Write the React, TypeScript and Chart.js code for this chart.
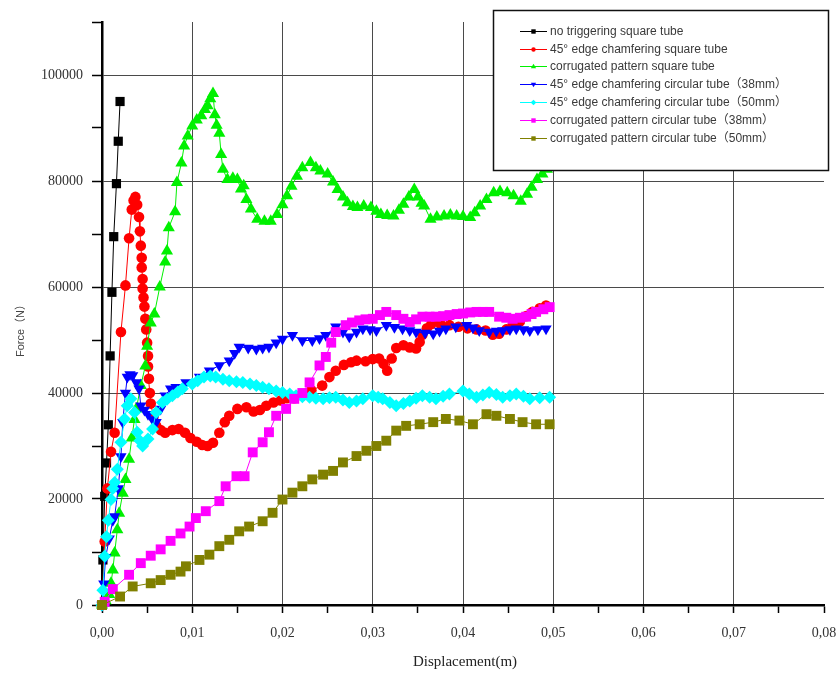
import React, { useEffect, useRef } from 'react';
import { Chart, registerables } from 'chart.js';

Chart.register(...registerables);

const seriesLabels = [
  'no triggering square tube',
  '45° edge chamfering square tube',
  'corrugated pattern square tube',
  '45° edge chamfering circular tube（38mm）',
  '45° edge chamfering circular tube（50mm）',
  'corrugated pattern circular tube（38mm）',
  'corrugated pattern circular tube（50mm）',
];

const noTriggerSquare: [number, number][] = [
  [0, 0], [0.0001, 8500], [0.0003, 20500], [0.0005, 26800], [0.0007, 34000], [0.0009, 47000],
  [0.0011, 59000], [0.0013, 69500], [0.0016, 79500], [0.0018, 87500], [0.002, 95000],
];

const chamferSquare: [number, number][] = [
  [0, 0], [0.0003, 12000], [0.0006, 22000], [0.001, 28900], [0.0014, 32500], [0.0021, 51500],
  [0.0026, 60300], [0.003, 69200], [0.0033, 74600], [0.0035, 76300], [0.0037, 77000], [0.0039, 75500],
  [0.0041, 73200], [0.0042, 70500], [0.0043, 67800], [0.0044, 65500], [0.0044, 63700], [0.0045, 61500],
  [0.0045, 59700], [0.0046, 58000], [0.0047, 56300], [0.0048, 54000], [0.0049, 52000], [0.005, 49500],
  [0.0051, 47000], [0.0051, 45000], [0.0052, 42700], [0.0053, 40000], [0.0054, 38000], [0.0057, 35500],
  [0.006, 33800], [0.0065, 33000], [0.007, 32500], [0.0078, 33000], [0.0085, 33200], [0.0092, 32500],
  [0.0098, 31500], [0.0105, 30800], [0.0111, 30200], [0.0117, 30000], [0.0123, 30600], [0.013, 32500],
  [0.0136, 34500], [0.0141, 35700], [0.015, 37000], [0.016, 37300], [0.0168, 36500], [0.0175, 36800],
  [0.0182, 37600], [0.019, 38200], [0.0198, 38600], [0.0205, 39000], [0.0213, 39000], [0.0222, 39500],
  [0.0232, 40500], [0.0244, 41400], [0.0252, 43000], [0.0259, 44200], [0.0268, 45300], [0.0276, 45800],
  [0.0282, 46100], [0.0292, 46000], [0.03, 46400], [0.0307, 46500], [0.0312, 45500], [0.0316, 44200],
  [0.0321, 46500], [0.0326, 48500], [0.0334, 49000], [0.0341, 48600], [0.0348, 48400], [0.0352, 49600],
  [0.0355, 51000], [0.036, 52200], [0.0365, 53000], [0.0375, 53000], [0.0385, 52800], [0.0395, 52500],
  [0.0405, 52200], [0.0415, 52000], [0.0425, 51800], [0.0433, 51000], [0.044, 51200], [0.0448, 52000],
  [0.0455, 52800], [0.0463, 53500], [0.047, 54500], [0.0477, 55300], [0.0485, 56000], [0.0492, 56500],
];

const corrugatedSquare: [number, number][] = [
  [0, 0], [0.0004, 800], [0.0008, 2000], [0.001, 4100], [0.0012, 6600], [0.0014, 9800], [0.0017, 14200],
  [0.0019, 17300], [0.0023, 21100], [0.0026, 23700], [0.003, 27500], [0.0033, 31500], [0.0036, 35000],
  [0.0038, 37000], [0.0043, 41400], [0.0048, 45100], [0.005, 48800], [0.0054, 53200], [0.0058, 54900],
  [0.0064, 60000], [0.007, 64700], [0.0072, 66800], [0.0074, 71200], [0.0081, 74200], [0.0083, 79700],
  [0.0088, 83400], [0.0091, 86600], [0.0095, 88500], [0.01, 90400], [0.0105, 91500], [0.011, 92300],
  [0.0114, 93500], [0.0117, 94200], [0.012, 95500], [0.0123, 96500], [0.0125, 92500], [0.0127, 90500],
  [0.013, 89000], [0.0132, 85000], [0.0134, 82200], [0.0139, 80300], [0.0145, 80500], [0.015, 80300],
  [0.0154, 78500], [0.0157, 79100], [0.016, 76500], [0.0165, 74700], [0.0172, 72800], [0.018, 72400],
  [0.0187, 72400], [0.0194, 73700], [0.02, 75500], [0.0205, 77200], [0.021, 79000], [0.0216, 80900],
  [0.0222, 82500], [0.0231, 83500], [0.0237, 82500], [0.0242, 81900], [0.025, 81300], [0.0256, 79800],
  [0.0261, 78400], [0.0267, 77000], [0.0272, 75900], [0.0278, 75200], [0.0283, 75000], [0.029, 75300],
  [0.0298, 75000], [0.0304, 74300], [0.0309, 73700], [0.0316, 73500], [0.0323, 73400], [0.0329, 74500],
  [0.0334, 75600], [0.034, 77000], [0.0346, 78400], [0.035, 77000], [0.0354, 75800], [0.0357, 75300],
  [0.0364, 72800], [0.0371, 73200], [0.0379, 73400], [0.0386, 73600], [0.0393, 73400], [0.04, 73300],
  [0.0408, 73100], [0.0413, 74000], [0.0419, 75300], [0.0426, 76500], [0.0434, 77800], [0.0441, 78000],
  [0.0449, 77800], [0.0456, 77200], [0.0464, 76200], [0.0471, 77500], [0.0476, 78800], [0.0482, 80300],
  [0.0488, 81300], [0.0493, 82200],
];

const chamferCircular38: [number, number][] = [
  [0, 0], [0.0002, 4000], [0.0004, 9000], [0.0008, 12500], [0.0012, 16000], [0.0014, 16700],
  [0.0018, 22000], [0.0021, 28000], [0.0023, 34500], [0.0026, 40000], [0.0028, 43000], [0.0031, 43500],
  [0.0034, 43300], [0.0038, 42000], [0.0041, 40800], [0.0043, 37600], [0.0047, 36800], [0.0051, 36000],
  [0.0056, 35000], [0.006, 34500], [0.0065, 37000], [0.007, 39500], [0.0076, 40800], [0.0082, 41100],
  [0.0093, 42000], [0.0108, 43000], [0.0119, 44200], [0.013, 45200], [0.0141, 46100], [0.0147, 47500],
  [0.0152, 48700], [0.0162, 48500], [0.0171, 48300], [0.0178, 48500], [0.0185, 48700], [0.0193, 49500],
  [0.02, 50200], [0.0211, 50900], [0.0222, 49900], [0.0233, 49900], [0.0241, 50300], [0.0248, 50900],
  [0.0259, 52500], [0.0267, 51500], [0.0274, 50600], [0.0282, 51500], [0.0289, 52100], [0.0297, 52000],
  [0.0304, 51800], [0.0315, 52800], [0.0324, 52400], [0.0333, 52100], [0.0341, 51800], [0.0348, 51500],
  [0.0358, 51300], [0.0367, 51200], [0.0374, 51700], [0.0381, 52100], [0.0392, 52500], [0.0404, 52800],
  [0.0411, 52300], [0.0418, 51800], [0.0429, 51500], [0.0437, 51700], [0.0444, 51800], [0.0452, 52000],
  [0.0459, 52100], [0.0467, 52000], [0.0474, 51800], [0.0483, 52000], [0.0492, 52100],
];

const chamferCircular50: [number, number][] = [
  [0, 0], [0.0001, 2800], [0.0003, 9200], [0.0005, 12900], [0.0007, 16000], [0.001, 19900],
  [0.0012, 22000], [0.0014, 23100], [0.0017, 25600], [0.0021, 30700], [0.0025, 35100], [0.0028, 37600],
  [0.0032, 38900], [0.0036, 36300], [0.0039, 32600], [0.0042, 31000], [0.0045, 30000], [0.0051, 31300],
  [0.0056, 33200], [0.006, 36300], [0.0067, 38200], [0.0072, 38800], [0.0078, 39500], [0.0084, 40200],
  [0.0089, 40800], [0.01, 41700], [0.0106, 42300], [0.0113, 43000], [0.012, 43200], [0.0126, 43000],
  [0.0134, 42600], [0.0141, 42300], [0.0149, 42100], [0.0156, 42000], [0.0164, 41700], [0.0171, 41400],
  [0.0178, 41100], [0.0185, 40800], [0.0193, 40400], [0.02, 40100], [0.0208, 39800], [0.0215, 39500],
  [0.0222, 39300], [0.023, 39200], [0.0237, 39000], [0.0245, 38900], [0.0252, 39100], [0.0259, 39200],
  [0.0267, 38700], [0.0274, 38200], [0.0282, 38500], [0.0289, 38900], [0.03, 39500], [0.0306, 39200],
  [0.0311, 38900], [0.0319, 38200], [0.0326, 37600], [0.0334, 38000], [0.0341, 38500], [0.0348, 39000],
  [0.0355, 39500], [0.0363, 39200], [0.037, 38900], [0.0378, 39400], [0.0385, 39800], [0.04, 40400],
  [0.0407, 39800], [0.0415, 39200], [0.0422, 39600], [0.0429, 40100], [0.0437, 39700], [0.0444, 39200],
  [0.0452, 39500], [0.0459, 39800], [0.0467, 39400], [0.0474, 38900], [0.0485, 39100], [0.0496, 39200],
];

const corrugatedCircular38: [number, number][] = [
  [0, 0], [0.0003, 600], [0.0012, 3000], [0.003, 5700], [0.0043, 7900], [0.0054, 9300], [0.0065, 10500],
  [0.0076, 12100], [0.0087, 13500], [0.0097, 14800], [0.0104, 16400], [0.0115, 17700], [0.013, 19600],
  [0.0137, 22400], [0.0149, 24300], [0.0158, 24300], [0.0167, 28800], [0.0178, 30700], [0.0185, 32600],
  [0.0193, 35700], [0.0204, 37000], [0.0213, 38900], [0.0222, 40000], [0.023, 42000], [0.0241, 45200],
  [0.0248, 46800], [0.0254, 49500], [0.0259, 51500], [0.027, 52800], [0.0277, 53300], [0.0285, 53700],
  [0.0292, 53900], [0.03, 54000], [0.0308, 54700], [0.0315, 55300], [0.0326, 54700], [0.0334, 54000],
  [0.0341, 53400], [0.0348, 53900], [0.0355, 54400], [0.0363, 54400], [0.037, 54400], [0.0378, 54500],
  [0.0385, 54700], [0.0393, 54900], [0.04, 55000], [0.0408, 55200], [0.0415, 55300], [0.0422, 55300],
  [0.0429, 55300], [0.044, 54400], [0.0448, 54200], [0.0455, 54000], [0.0463, 54200], [0.047, 54400],
  [0.0476, 54900], [0.0481, 55300], [0.0489, 55800], [0.0496, 56200],
];

const corrugatedCircular50: [number, number][] = [
  [0, 0], [0.002, 1600], [0.0034, 3500], [0.0054, 4100], [0.0065, 4700], [0.0076, 5700], [0.0087, 6300],
  [0.0093, 7300], [0.0108, 8500], [0.0119, 9500], [0.013, 11100], [0.0141, 12300], [0.0152, 13900],
  [0.0163, 14800], [0.0178, 15800], [0.0189, 17400], [0.02, 19900], [0.0211, 21200], [0.0222, 22400],
  [0.0233, 23700], [0.0245, 24600], [0.0256, 25300], [0.0267, 26900], [0.0282, 28100], [0.0293, 29100],
  [0.0304, 30000], [0.0315, 31000], [0.0326, 32900], [0.0337, 33800], [0.0352, 34100], [0.0367, 34500],
  [0.0381, 35100], [0.0396, 34800], [0.0411, 34100], [0.0426, 36000], [0.0437, 35700], [0.0452, 35100],
  [0.0466, 34500], [0.0481, 34100], [0.0496, 34100],
];

const allSeries = [
  noTriggerSquare, chamferSquare, corrugatedSquare, chamferCircular38,
  chamferCircular50, corrugatedCircular38, corrugatedCircular50,
];

const colors = ['#000000', '#ff0000', '#00f000', '#0000ff', '#00ffff', '#ff00ff', '#808000'];
const pointStyles = ['rect', 'circle', 'triangle', 'triangle', 'rectRot', 'rect', 'rect'];
const pointRotations = [0, 0, 0, 180, 0, 0, 0];
const pointRadii = [6.5, 5.3, 7, 6.5, 6.5, 7, 7];

const xTitle = 'Displacement(m)';
const yTitle = 'Force（N）';

const SERIF = '"Liberation Serif", "Times New Roman", "DejaVu Serif", serif';
const SANS = '"Liberation Sans", Arial, "Noto Sans", "Noto Sans CJK SC", sans-serif';

function drawMarker(ctx: CanvasRenderingContext2D, style: string, rot: number, x: number, y: number, r: number) {
  ctx.beginPath();
  if (style === 'rect') {
    ctx.rect(x - r, y - r, 2 * r, 2 * r);
  } else if (style === 'circle') {
    ctx.arc(x, y, r, 0, Math.PI * 2);
  } else if (style === 'rectRot') {
    ctx.moveTo(x, y - r * 1.3);
    ctx.lineTo(x + r * 1.3, y);
    ctx.lineTo(x, y + r * 1.3);
    ctx.lineTo(x - r * 1.3, y);
    ctx.closePath();
  } else if (style === 'triangle') {
    const s = rot === 180 ? -1 : 1;
    ctx.moveTo(x, y - s * r * 1.3);
    ctx.lineTo(x + r * 1.2, y + s * r * 0.8);
    ctx.lineTo(x - r * 1.2, y + s * r * 0.8);
    ctx.closePath();
  }
  ctx.fill();
}

const overlayPlugin = {
  id: 'overlay',
  afterDraw(chart: any) {
    const ctx: CanvasRenderingContext2D = chart.ctx;
    ctx.save();
    // legend box
    ctx.fillStyle = '#ffffff';
    ctx.fillRect(493, 10, 336, 161);
    ctx.strokeStyle = '#111';
    ctx.lineWidth = 1.5;
    ctx.strokeRect(493.5, 10.5, 335, 160);
    ctx.font = `12px ${SANS}`;
    ctx.textBaseline = 'middle';
    ctx.textAlign = 'left';
    seriesLabels.forEach((lab, i) => {
      const y = Math.round(30.7 + i * 17.8) + 0.5;
      ctx.strokeStyle = colors[i];
      ctx.lineWidth = 1;
      ctx.beginPath();
      ctx.moveTo(520, y);
      ctx.lineTo(547, y);
      ctx.stroke();
      ctx.fillStyle = colors[i];
      drawMarker(ctx, pointStyles[i], pointRotations[i], 533.5, y, 2.2);
      ctx.fillStyle = '#3a3a3a';
      ctx.fillText(lab, 550, y + 0.5);
    });
    // axis titles
    ctx.fillStyle = '#222';
    ctx.font = `15px ${SERIF}`;
    ctx.textAlign = 'center';
    ctx.textBaseline = 'middle';
    ctx.fillText(xTitle, 465, 662);
    ctx.save();
    ctx.translate(21, 328);
    ctx.rotate(-Math.PI / 2);
    ctx.font = `11px ${SANS}`;
    ctx.fillStyle = '#444';
    ctx.fillText(yTitle, 0, 0);
    ctx.restore();
    ctx.restore();
  },
};

export default function App() {
  const canvasRef = useRef<HTMLCanvasElement | null>(null);

  useEffect(() => {
    const canvas = canvasRef.current;
    if (!canvas) return;
    const datasets = allSeries.map((s, i) => ({
      label: seriesLabels[i],
      data: s.map(([x, y]) => ({ x, y })),
      borderColor: colors[i],
      backgroundColor: colors[i],
      borderWidth: 1,
      showLine: true,
      pointStyle: pointStyles[i] as any,
      pointRotation: pointRotations[i],
      pointRadius: pointRadii[i],
      pointBorderWidth: 0,
      pointBackgroundColor: colors[i],
      pointBorderColor: colors[i],
      tension: 0,
      clip: false as any,
      order: allSeries.length - i,
    }));

    const chart = new Chart(canvas, {
      type: 'scatter',
      data: { datasets },
      plugins: [overlayPlugin],
      options: {
        responsive: false,
        animation: false,
        devicePixelRatio: 1,
        layout: { padding: { left: 0, right: 16, top: 22, bottom: 0 } },
        plugins: { legend: { display: false }, tooltip: { enabled: false }, title: { display: false } },
        scales: {
          x: {
            type: 'linear',
            min: 0,
            max: 0.08,
            afterFit: (scale: any) => {
              scale.height = 68;
              scale.paddingLeft = 0;
              scale.paddingRight = 0;
            },
            afterBuildTicks: (scale: any) => {
              const t = [];
              for (let i = 0; i <= 16; i++) t.push({ value: i * 0.005 });
              scale.ticks = t;
            },
            ticks: {
              autoSkip: false,
              maxRotation: 0,
              minRotation: 0,
              padding: 12,
              color: '#333',
              font: { family: SERIF, size: 14 },
              callback: (v: any) => {
                const n = Math.round(Number(v) * 1000);
                if (n % 10 !== 0) return '';
                return (n / 1000).toFixed(2).replace('.', ',');
              },
            },
            grid: {
              drawTicks: true,
              tickLength: 8,
              tickWidth: 1.5,
              tickColor: '#000',
              lineWidth: 1,
              color: (c: any) => {
                const n = Math.round(Number(c.tick?.value) * 1000);
                if (n % 10 !== 0 || n === 0 || n === 80) return 'rgba(0,0,0,0)';
                return '#4a4a4a';
              },
            },
            border: { display: true, color: '#000', width: 2.5 },
          },
          y: {
            type: 'linear',
            min: 0,
            max: 110000,
            afterFit: (scale: any) => {
              scale.width = 102;
              scale.paddingTop = 0;
              scale.paddingBottom = 0;
            },
            afterBuildTicks: (scale: any) => {
              const t = [];
              for (let i = 0; i <= 11; i++) t.push({ value: i * 10000 });
              scale.ticks = t;
            },
            ticks: {
              autoSkip: false,
              padding: 9,
              color: '#333',
              font: { family: SERIF, size: 14 },
              callback: (v: any) => {
                const n = Math.round(Number(v));
                if (n % 20000 !== 0) return '';
                return String(n);
              },
            },
            grid: {
              drawTicks: true,
              tickLength: 10,
              tickWidth: 1.5,
              tickColor: '#000',
              lineWidth: 1,
              color: (c: any) => {
                const n = Math.round(Number(c.tick?.value));
                if (n % 20000 !== 0 || n === 0) return 'rgba(0,0,0,0)';
                return '#4a4a4a';
              },
            },
            border: { display: true, color: '#000', width: 2.5 },
          },
        },
      },
    });
    return () => chart.destroy();
  }, []);

  return (
    <div style={{ position: 'fixed', left: 0, top: 0, width: 840, height: 673, background: '#fff' }}>
      <canvas ref={canvasRef} width={840} height={673} style={{ display: 'block', width: 840, height: 673 }} />
    </div>
  );
}
